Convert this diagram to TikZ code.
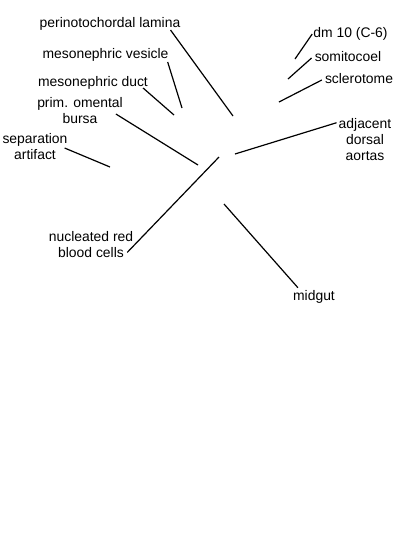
\documentclass[tikz,border=0pt]{standalone}
\usepackage{fontspec}
\setmainfont{Liberation Sans}
\usepackage{tikz}
\usetikzlibrary{positioning}

\begin{document}
\begin{tikzpicture}[x=1pt, y=-1pt,
  lbl/.style={inner sep=0pt, align=center, anchor=base, font=\fontsize{13.9}{16}\selectfont},
  leader/.style={line width=1.2pt, black}
]
  \useasboundingbox[fill=white] (0,0) rectangle (400,550);

  % labels
  \node[lbl] (peri) at (110,27) {perinotochordal lamina};
  \node[lbl] (vesicle) at (105.5,58) {mesonephric vesicle};
  \node[lbl] (duct) at (93,86) {mesonephric duct};
  \node[lbl] (bursa) at (80,123) {prim. omental\\bursa};
  \node[lbl] (artifact) at (35,159) {separation\\artifact};
  \node[lbl] (dm) at (350.5,37) {dm 10 (C-6)};
  \node[lbl] (somito) at (348,61) {somitocoel};
  \node[lbl] (sclero) at (359,83) {sclerotome};
  \node[lbl] (aortas) at (365,160) {adjacent\\dorsal\\aortas};
  \node[lbl] (rbc) at (91,257) {nucleated red\\blood cells};
  \node[lbl] (midgut) at (314,300) {midgut};

  % pointed structures
  \coordinate (pPeri) at (233,116);
  \coordinate (pVesicle) at (182,108);
  \coordinate (pDuct) at (174,115);
  \coordinate (pBursa) at (198,165);
  \coordinate (pArtifact) at (110,167);
  \coordinate (pDm) at (295,59);
  \coordinate (pSomito) at (288,79);
  \coordinate (pSclero) at (279,102);
  \coordinate (pAortas) at (235,154);
  \coordinate (pRbc) at (219,157);
  \coordinate (pMidgut) at (224,204);

  \draw[leader] ([xshift=-10pt,yshift=-3pt]peri.base east) -- (pPeri);
  \draw[leader] ([xshift=-1pt,yshift=-4pt]vesicle.base east) -- (pVesicle);
  \draw[leader] ([xshift=-5pt,yshift=-2pt]duct.base east) -- (pDuct);
  \draw[leader] ([xshift=-7pt,yshift=-4pt]bursa.east) -- (pBursa);
  \draw[leader] ([xshift=-3pt,yshift=-2pt]artifact.east) -- (pArtifact);
  \draw[leader] ([xshift=-1pt,yshift=3pt]dm.base west) -- (pDm);
  \draw[leader] ([xshift=-3pt,yshift=3pt]somito.base west) -- (pSomito);
  \draw[leader] ([xshift=-3pt,yshift=3pt]sclero.base west) -- (pSclero);
  \draw[leader] ([xshift=-2pt,yshift=-5pt]aortas.north west) -- (pAortas);
  \draw[leader] ([xshift=-6pt,yshift=5pt]rbc.south east) -- (pRbc);
  \draw[leader] ([xshift=5pt,yshift=2pt]midgut.north west) -- (pMidgut);
\end{tikzpicture}
\end{document}
